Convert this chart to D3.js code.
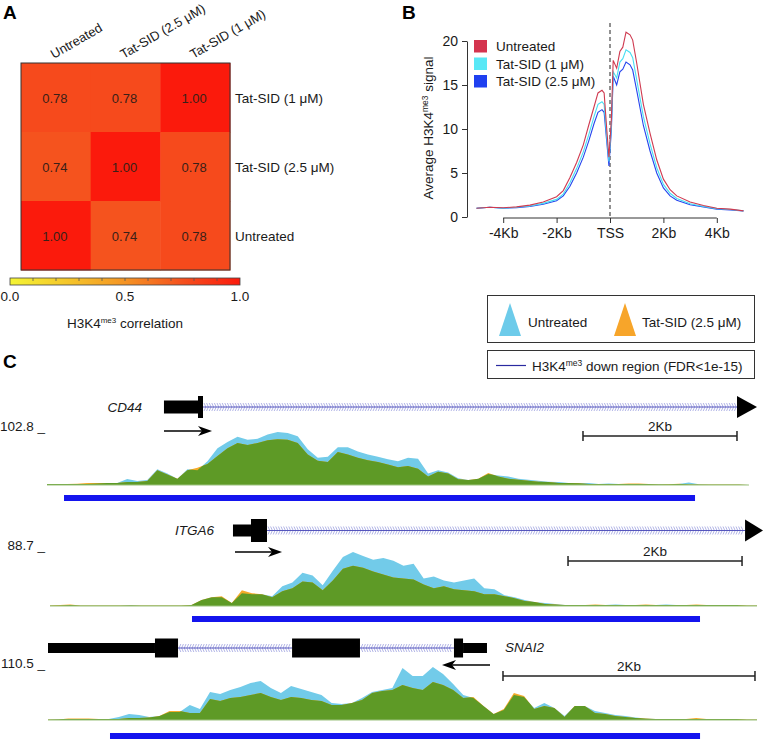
<!DOCTYPE html>
<html><head><meta charset="utf-8">
<script src="https://cdn.jsdelivr.net/npm/d3@7"></script>
<style>
body{margin:0;background:#fff}
svg{display:block}
text{font-family:"Liberation Sans",Arial,Helvetica,sans-serif;fill:#1a1a1a}
</style>
</head><body>
<svg id="c" width="764" height="739"></svg>
<script>
// ===================== DATA =====================
// Panel A: correlation heatmap
const corrColumns = ["Untreated", "Tat-SID (2.5 μM)", "Tat-SID (1 μM)"];
const corrRows = ["Tat-SID (1 μM)", "Tat-SID (2.5 μM)", "Untreated"];
const corrValues = [
  [0.78, 0.78, 1.00],
  [0.74, 1.00, 0.78],
  [1.00, 0.74, 0.78]
];
const colorbarLabels = [0, 0.5, 1];
const colorbarMinorTicks = [0.1, 0.2, 0.3, 0.4, 0.5, 0.6, 0.7, 0.8, 0.9];

// Panel B: average profile around TSS (kb)
const profileKb = [-5, -4.5, -4, -3.5, -3, -2.5, -2, -1.75, -1.5, -1.25, -1, -0.8, -0.6, -0.45, -0.3, -0.22, -0.12, -0.04, 0.05, 0.12, 0.25, 0.37, 0.48, 0.6, 0.75, 0.85, 1.0, 1.25, 1.5, 1.75, 2, 2.25, 2.5, 3, 3.5, 4, 4.5, 5];
const profileUntreated = [1.0, 1.1, 1.05, 1.15, 1.35, 1.7, 2.3, 3.0, 4.5, 6.2, 8.2, 10.4, 12.5, 14.1, 14.4, 14.1, 9.9, 6.8, 11.0, 17.8, 16.9, 18.8, 19.3, 21.0, 20.7, 20.1, 17.5, 12.8, 9.5, 6.5, 4.3, 3.1, 2.4, 1.7, 1.3, 1.0, 0.9, 0.7];
const profileTat1 = [1.0, 1.1, 1.0, 1.1, 1.25, 1.55, 2.0, 2.6, 3.9, 5.5, 7.4, 9.3, 11.4, 12.8, 13.1, 12.8, 9.0, 6.3, 10.3, 16.5, 15.8, 17.6, 18.0, 19.0, 18.7, 18.1, 15.6, 11.4, 8.3, 5.6, 3.7, 2.7, 2.1, 1.5, 1.2, 0.95, 0.85, 0.7];
const profileTat25 = [1.0, 1.1, 1.0, 1.05, 1.2, 1.45, 1.85, 2.4, 3.5, 5.0, 6.8, 8.6, 10.6, 11.9, 12.2, 11.9, 8.5, 5.8, 9.8, 16.0, 15.0, 16.5, 16.8, 17.6, 17.3, 16.7, 14.4, 10.4, 7.5, 5.0, 3.3, 2.4, 1.9, 1.4, 1.15, 0.9, 0.8, 0.7];
const profileSeries = ["Untreated", "Tat-SID (1 μM)", "Tat-SID (2.5 μM)"];
const profileXTicks = [-4, -2, 0, 2, 4];
const profileXLabels = ["-4Kb", "-2Kb", "TSS", "2Kb", "4Kb"];
const profileYTicks = [0, 5, 10, 15, 20];

// Panel C: browser tracks (signal sampled evenly across each window, window length in kb)
const cd44Span = 9.117;
const cd44Max = 102.8;
const cd44Untreated = [1.9,1.9,1.9,1.9,1.9,2.9,3.8,3.8,11.4,7.6,9.5,30,22,12,30,28,45,70,82,92,86,88,96,101,99,93,68,52,54,72,72,64,58,54,49,45,52,50,22,28,24,13,9.5,12,21,18,16,12,10,8,6,5.7,4,3.8,3.8,2,2.9,2,2,2,2,1.9,1.5,2,4.8,1.5,1,1,0.8,0.8,0];
const cd44Tat = [1.9,1.9,1.9,2.5,3.8,3.8,3.8,3.8,5.7,5.7,7.6,28,20,12,28,33,40,55,70,80,76,80,85,87,86,80,58,46,44,63,58,52,47,44,39,34,36,31,16,25,22,11,9.5,12,23,16,12,10,8,6,5.7,4,3.8,3.5,2,2,2,2,2.9,2.9,2,1,1.5,2.5,1,1,1,1,0.8,0.8,0];
const cd44Blocks = [[1.519, 1.961, "utr"], [1.961, 2.026, "cds"]];
const cd44Introns = [[2.026, 8.961]];
const cd44EndArrow = [8.961, 9.221];
const cd44TssArrow = [1.519, 2.143];
const cd44ScaleBar = [6.961, 8.961];
const cd44DownRegion = [0.221, 8.416];

const itga6Span = 8.126;
const itga6Max = 88.7;
const itga6Untreated = [0.8,0.8,1.6,0.8,0.8,0.8,0.8,0.8,1.6,0.8,0.8,0.8,0.8,0.8,1.6,9.7,14.5,14.5,4.8,21,19.4,19.4,16.1,32.3,38.7,54.8,50,33.9,58.1,80.6,88.7,82.3,75.8,79,74.2,66.1,69.4,45.2,48.4,41.9,38.7,41.9,45.2,29,27.4,17.7,14.5,9.7,6.5,4.8,3.2,1.6,1.6,1.6,1.6,1.6,2.4,1.6,1.6,1.6,1.6,2.4,1.6,1.6,1.6,1.6,1.6,1.6,1.6,0.8,0.8];
const itga6Tat = [0.8,1.6,2.4,0.8,0.8,0.8,0.8,0.8,0.8,0.8,0.8,0.8,0.8,0.8,1.6,9.7,14.5,16.1,4.8,25.8,21,19.4,14.5,24.2,29,40.3,38.7,25.8,41.9,61.3,66.1,62.9,56.5,51.6,46.8,45.2,43.6,35.5,29,32.3,27.4,25.8,24.2,19.4,19.4,16.1,12.9,8.1,6.5,3.2,2.4,1.6,1.6,1.6,2.4,1.6,1.6,1.6,1.6,2.4,1.6,1.6,1.6,1.6,2.4,1.6,1.6,1.6,1.6,0.8,0.8];
const itga6Blocks = [[2.103, 2.310, "utr"], [2.310, 2.494, "cds"]];
const itga6Introns = [[2.494, 7.989]];
const itga6EndArrow = [7.989, 8.195];
const itga6TssArrow = [2.126, 2.667];
const itga6ScaleBar = [5.954, 7.954];
const itga6DownRegion = [1.632, 7.471];

const snai2Span = 5.627;
const snai2Max = 110.5;
const snai2Untreated = [1,2,2,2,2,2,2,6.1,12.3,10.2,6.1,8.2,16.4,16.4,30.7,22.5,57.3,53.2,61.4,67.5,75.7,79.8,65.5,55.2,69.6,63.4,57.3,51.2,34.8,32.7,34.8,45,57.3,61.4,65.5,106.4,90,90,108.4,94.1,73.7,51.2,45,28.6,12.3,20.5,51.2,47.1,24.6,34.8,24.6,8.2,28.6,28.6,18.4,14.3,10.2,8.2,5.1,3.1,2,2,2,2,2,2,2,2,2,1,1];
const snai2Tat = [1,1,3.1,3.1,3.1,2,2,2,4.1,4.1,5.1,8.2,18.4,18.4,14.3,14.3,43,38.9,45,47.1,51.2,55.2,47.1,40.9,47.1,45,40.9,38.9,30.7,30.7,34.8,40.9,55.2,59.3,61.4,71.6,65.5,61.4,77.7,71.6,61.4,45,47.1,28.6,12.3,22.5,55.2,49.1,22.5,28.6,24.6,6.1,28.6,28.6,14.3,12.3,8.2,6.1,4.1,3.1,2,2,2,2,4.1,2,2,2,2,1,1];
const snai2Blocks = [[0, 0.849, "utr"], [0.849, 1.032, "cds"], [1.937, 2.476, "cds"], [3.222, 3.294, "cds"], [3.294, 3.484, "utr"]];
const snai2Introns = [[1.032, 1.937], [2.476, 3.222]];
const snai2TssArrow = [3.508, 3.127];
const snai2ScaleBar = [3.611, 5.611];
const snai2DownRegion = [0.492, 5.175];

const trackLegend = ["Untreated", "Tat-SID (2.5 μM)"];

// ===================== DRAW =====================
const svg = d3.select("#c");

// panel letters
[["A", 3, 19], ["B", 402, 19], ["C", 3, 368]].forEach(([t, x, y]) => {
  svg.append("text").attr("x", x).attr("y", y).attr("font-size", 19)
    .attr("font-weight", "bold").style("fill", "#000").text(t);
});

// ---------- Panel A ----------
const heatColor = d3.scaleLinear()
  .domain([0, 0.25, 0.5, 0.75, 1])
  .range(["#f4f434", "#f5c62a", "#f59424", "#f5501e", "#fb1a0c"]);
const hx = d3.scaleBand().domain(corrColumns).range([21, 230]);
const hy = d3.scaleBand().domain(corrRows).range([63, 270]);
const gA = svg.append("g");
corrRows.forEach((r, ri) => {
  corrColumns.forEach((c, ci) => {
    const v = corrValues[ri][ci];
    gA.append("rect").attr("x", hx(c)).attr("y", hy(r))
      .attr("width", hx.bandwidth() + 0.5).attr("height", hy.bandwidth() + 0.5)
      .attr("fill", heatColor(v));
    gA.append("text").attr("x", hx(c) + hx.bandwidth() / 2 - 1)
      .attr("y", hy(r) + hy.bandwidth() / 2 + 5)
      .attr("text-anchor", "middle").attr("font-size", 13).style("fill", "#3a2018")
      .text(d3.format(".2f")(v));
  });
});
gA.append("rect").attr("x", 21).attr("y", 63).attr("width", 209).attr("height", 207)
  .attr("fill", "none").attr("stroke", "#333").attr("stroke-width", 1);
corrColumns.forEach(c => {
  gA.append("text")
    .attr("transform", `translate(${hx(c) + hx.bandwidth() / 2 - 2},59) rotate(-30)`)
    .attr("font-size", 13).text(c);
});
corrRows.forEach(r => {
  gA.append("text").attr("x", 235).attr("y", hy(r) + hy.bandwidth() / 2 + 5)
    .attr("font-size", 13.5).text(r);
});
// colorbar
const cbx = d3.scaleLinear().domain([0, 1]).range([10, 240]);
const defs = svg.append("defs");
const grad = defs.append("linearGradient").attr("id", "cbgrad");
d3.range(0, 1.0001, 0.05).forEach(t => {
  grad.append("stop").attr("offset", t).attr("stop-color", heatColor(t));
});
gA.append("rect").attr("x", cbx(0)).attr("y", 278).attr("width", cbx(1) - cbx(0)).attr("height", 7)
  .attr("fill", "url(#cbgrad)").attr("stroke", "#444").attr("stroke-width", 0.8);
colorbarMinorTicks.forEach(t => {
  gA.append("line").attr("x1", cbx(t)).attr("x2", cbx(t)).attr("y1", 278).attr("y2", 281)
    .attr("stroke", "#555").attr("stroke-width", 0.8);
});
colorbarLabels.forEach(t => {
  gA.append("text").attr("x", cbx(t)).attr("y", 301).attr("text-anchor", "middle")
    .attr("font-size", 13.5).text(d3.format(".1f")(t));
});
const cbt = gA.append("text").attr("x", cbx(0.5)).attr("y", 328).attr("text-anchor", "middle").attr("font-size", 13.5);
cbt.append("tspan").text("H3K4");
cbt.append("tspan").attr("font-size", 8).attr("dy", -5).text("me3");
cbt.append("tspan").attr("dy", 5).text(" correlation");

// ---------- Panel B ----------
const xB = d3.scaleLinear().domain([-5, 5]).range([476.5, 743.5]);
const yB = d3.scaleLinear().domain([0, 20]).range([217, 41]);
const gB = svg.append("g");
const profileColors = ["#cf3a50", "#48def2", "#2644ee"];
const legendColors = ["#d4344e", "#58e8f6", "#1f40f0"];
const profileData = [profileUntreated, profileTat1, profileTat25];
const lineB = d3.line().x((d, i) => xB(profileKb[i])).y(d => yB(d));
// y axis
const yAxis = d3.axisLeft(yB).tickValues(profileYTicks).tickSize(5).tickSizeOuter(0).tickPadding(4);
const yAx = gB.append("g").attr("transform", "translate(467,0)").call(yAxis);
yAx.selectAll("text").attr("font-size", 14).style("fill", "#1a1a1a").attr("font-family", null);
yAx.selectAll("line,path").attr("stroke", "#333");
// x axis
const xAxis = d3.axisBottom(xB).tickValues(profileXTicks).tickFormat((d, i) => profileXLabels[i])
  .tickSize(5).tickPadding(5);
const xAx = gB.append("g").attr("transform", "translate(0,218)").call(xAxis);
xAx.select(".domain").remove();
xAx.append("line").attr("x1", xB(-4)).attr("x2", xB(4)).attr("y1", 0).attr("y2", 0).attr("stroke", "#333");
xAx.selectAll("text").attr("font-size", 14).style("fill", "#1a1a1a").attr("font-family", null);
xAx.selectAll(".tick line").attr("stroke", "#333");
// y label
const yl = gB.append("text").attr("transform", "translate(433,128) rotate(-90)")
  .attr("text-anchor", "middle").attr("font-size", 13.5);
yl.append("tspan").text("Average H3K4");
yl.append("tspan").attr("font-size", 8.5).attr("dy", -5).text("me3");
yl.append("tspan").attr("dy", 5).text(" signal");
// dashed TSS
gB.append("line").attr("x1", xB(0)).attr("x2", xB(0)).attr("y1", 23).attr("y2", 217)
  .attr("stroke", "#222").attr("stroke-dasharray", "4,3").attr("stroke-width", 1);
// lines (draw blue first, red last)
[2, 1, 0].forEach(k => {
  gB.append("path").datum(profileData[k]).attr("d", lineB)
    .attr("fill", "none").attr("stroke", profileColors[k]).attr("stroke-width", 1.1);
});
// legend
profileSeries.forEach((s, i) => {
  gB.append("rect").attr("x", 474).attr("y", 40 + i * 17.5).attr("width", 13).attr("height", 12.5)
    .attr("fill", legendColors[i]);
  gB.append("text").attr("x", 496).attr("y", 51 + i * 17.5).attr("font-size", 13.5).text(s);
});

// ---------- Panel C legend ----------
const gL = svg.append("g");
gL.append("rect").attr("x", 487.5).attr("y", 295.5).attr("width", 267).attr("height", 47)
  .attr("fill", "none").attr("stroke", "#333");
const triColors = ["#6dcbea", "#f7a52a"];
const triX = [510, 625];
const textX = [528, 642];
trackLegend.forEach((s, i) => {
  const cx = triX[i];
  gL.append("path").attr("d", `M${cx - 11},336 L${cx + 11},336 L${cx},303 Z`).attr("fill", triColors[i]);
  gL.append("text").attr("x", textX[i]).attr("y", 327).attr("font-size", 13.5).text(s);
});
gL.append("rect").attr("x", 487.5).attr("y", 350.5).attr("width", 267).attr("height", 28)
  .attr("fill", "none").attr("stroke", "#333");
gL.append("line").attr("x1", 496).attr("x2", 526).attr("y1", 365.5).attr("y2", 365.5)
  .attr("stroke", "#2a2aa0").attr("stroke-width", 1.2);
const lt = gL.append("text").attr("x", 532).attr("y", 371).attr("font-size", 13.5);
lt.append("tspan").text("H3K4");
lt.append("tspan").attr("font-size", 8.5).attr("dy", -5).text("me3");
lt.append("tspan").attr("dy", 5).text(" down region (FDR<1e-15)");

// ---------- Panel C tracks ----------
const tracks = [
  { id: "cd44", name: "CD44", span: cd44Span, max: cd44Max, u: cd44Untreated, t: cd44Tat,
    blocks: cd44Blocks, introns: cd44Introns, endArrow: cd44EndArrow, tss: cd44TssArrow,
    bar: cd44ScaleBar, down: cd44DownRegion, strand: 1,
    x0: 47, x1: 749, base: 485, geneY: 407, arrowY: 431, barY: 436, downY: 495, labelY: 431,
    nameX: 142, nameY: 412, nameAnchor: "end", utrH: 13, cdsH: 22 },
  { id: "itga6", name: "ITGA6", span: itga6Span, max: itga6Max, u: itga6Untreated, t: itga6Tat,
    blocks: itga6Blocks, introns: itga6Introns, endArrow: itga6EndArrow, tss: itga6TssArrow,
    bar: itga6ScaleBar, down: itga6DownRegion, strand: 1,
    x0: 50, x1: 757, base: 606, geneY: 530.5, arrowY: 552, barY: 561, downY: 616, labelY: 550,
    nameX: 214, nameY: 535, nameAnchor: "end", utrH: 12, cdsH: 23 },
  { id: "snai2", name: "SNAI2", span: snai2Span, max: snai2Max, u: snai2Untreated, t: snai2Tat,
    blocks: snai2Blocks, introns: snai2Introns, endArrow: null, tss: snai2TssArrow,
    bar: snai2ScaleBar, down: snai2DownRegion, strand: -1,
    x0: 48, x1: 757, base: 720, geneY: 648, arrowY: 665, barY: 676, downY: 733, labelY: 668,
    nameX: 505, nameY: 652, nameAnchor: "start", utrH: 10, cdsH: 19 }
];

tracks.forEach(tr => {
  const g = svg.append("g");
  const x = d3.scaleLinear().domain([0, tr.span]).range([tr.x0, tr.x1]);
  const y = d3.scaleLinear().domain([0, tr.max]).range([tr.base, tr.base - 54]);
  const n = tr.u.length;
  const kb = i => i * tr.span / (n - 1);
  const area = d3.area().x((d, i) => x(kb(i))).y0(tr.base).y1(d => y(d));

  // value label
  g.append("text").attr("x", 45).attr("y", tr.labelY).attr("text-anchor", "end")
    .attr("font-size", 13.5).text(d3.format(".1f")(tr.max) + " _");

  // signal
  const clipId = "clip-" + tr.id;
  defs.append("clipPath").attr("id", clipId).append("path").attr("d", area(tr.u));
  g.append("path").attr("d", area(tr.u)).attr("fill", "#72cbe9");
  g.append("path").attr("d", area(tr.t)).attr("fill", "#f5ab2a");
  g.append("path").attr("d", area(tr.t)).attr("fill", "#5e9a26").attr("clip-path", `url(#${clipId})`);
  g.append("line").attr("x1", tr.x0).attr("x2", tr.x1).attr("y1", tr.base).attr("y2", tr.base)
    .attr("stroke", "#9cc27e").attr("stroke-width", 1);

  // down region
  g.append("rect").attr("x", x(tr.down[0])).attr("y", tr.downY)
    .attr("width", x(tr.down[1]) - x(tr.down[0])).attr("height", 6).attr("fill", "#1414ee");

  // introns with chevrons
  tr.introns.forEach(([a, b]) => {
    const xa = x(a), xb = x(b), yc = tr.geneY;
    let d = "";
    d3.range(xa + 1, xb - 2, 2.6).forEach(px => {
      if (tr.strand > 0) d += `M${px},${yc - 4}L${px + 1.8},${yc}L${px},${yc + 4}`;
      else d += `M${px + 1.8},${yc - 4}L${px},${yc}L${px + 1.8},${yc + 4}`;
    });
    g.append("path").attr("d", d).attr("fill", "none").attr("stroke", "#9ea2e0").attr("stroke-width", 0.8);
    g.append("line").attr("x1", xa).attr("x2", xb).attr("y1", yc).attr("y2", yc)
      .attr("stroke", "#4444b6").attr("stroke-width", 0.9);
  });
  // exons
  tr.blocks.forEach(([a, b, kind]) => {
    const h = kind === "cds" ? tr.cdsH : tr.utrH;
    g.append("rect").attr("x", x(a)).attr("y", tr.geneY - h / 2)
      .attr("width", x(b) - x(a)).attr("height", h).attr("fill", "#000");
  });
  // end arrowhead
  if (tr.endArrow) {
    const xa = x(tr.endArrow[0]), xb = x(tr.endArrow[1]);
    g.append("path").attr("d", `M${xa},${tr.geneY - 11}L${xb},${tr.geneY}L${xa},${tr.geneY + 11}Z`).attr("fill", "#000");
  }
  // TSS direction arrow
  {
    const xa = x(tr.tss[0]), xb = x(tr.tss[1]), ya = tr.arrowY;
    const dir = xb > xa ? 1 : -1;
    g.append("line").attr("x1", xa).attr("x2", xb - dir * 8).attr("y1", ya).attr("y2", ya)
      .attr("stroke", "#000").attr("stroke-width", 1.6);
    g.append("path")
      .attr("d", `M${xb},${ya}L${xb - dir * 14},${ya - 5}L${xb - dir * 10},${ya}L${xb - dir * 14},${ya + 5}Z`)
      .attr("fill", "#000");
  }
  // gene name
  g.append("text").attr("x", tr.nameX).attr("y", tr.nameY).attr("text-anchor", tr.nameAnchor)
    .attr("font-size", 13.5).attr("font-style", "italic").text(tr.name);
  // scale bar
  {
    const xa = x(tr.bar[0]), xb = x(tr.bar[1]), yb = tr.barY;
    g.append("line").attr("x1", xa).attr("x2", xb).attr("y1", yb).attr("y2", yb).attr("stroke", "#222").attr("stroke-width", 1.5);
    [xa, xb].forEach(px => g.append("line").attr("x1", px).attr("x2", px).attr("y1", yb - 5).attr("y2", yb + 5)
      .attr("stroke", "#222").attr("stroke-width", 1.5));
    g.append("text").attr("x", (xa + xb) / 2).attr("y", yb - 5).attr("text-anchor", "middle")
      .attr("font-size", 13.5).text((tr.bar[1] - tr.bar[0]).toFixed(0) + "Kb");
  }
});
</script>
</body></html>
